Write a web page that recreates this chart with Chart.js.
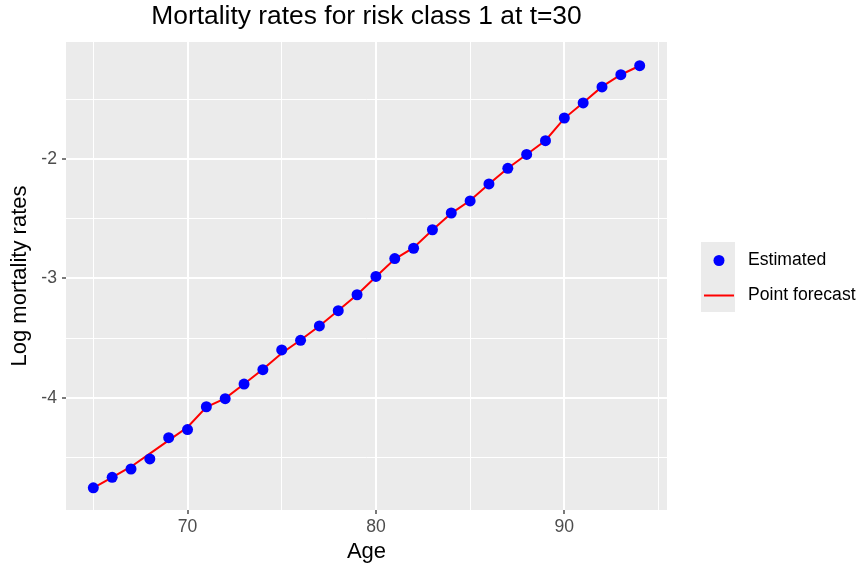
<!DOCTYPE html>
<html>
<head>
<meta charset="utf-8">
<script src="https://cdn.jsdelivr.net/npm/chart.js@4/dist/chart.umd.min.js"></script>
<style>
  html, body { margin: 0; padding: 0; background: #ffffff; }
  #wrap { width: 859px; height: 569px; position: relative; }
</style>
</head>
<body>
<div id="wrap"><canvas id="c" width="859" height="569"></canvas></div>
<script>
// ---- Data ----
const ages = [65,66,67,68,69,70,71,72,73,74,75,76,77,78,79,80,81,82,83,84,85,86,87,88,89,90,91,92,93,94];
const estimated = [-4.751,-4.664,-4.594,-4.510,-4.332,-4.264,-4.073,-4.006,-3.883,-3.763,-3.598,-3.517,-3.397,-3.269,-3.136,-2.983,-2.833,-2.747,-2.592,-2.452,-2.351,-2.209,-2.078,-1.962,-1.847,-1.657,-1.531,-1.397,-1.295,-1.219];
const pointForecast = [-4.751,-4.664,-4.575,-4.465,-4.355,-4.245,-4.075,-4.003,-3.883,-3.760,-3.625,-3.515,-3.397,-3.268,-3.136,-2.985,-2.838,-2.742,-2.595,-2.455,-2.348,-2.210,-2.078,-1.962,-1.845,-1.660,-1.530,-1.395,-1.295,-1.220];
const xGrid = [65,70,75,80,85,90,95];
const xMajor = [70,80,90];
const yGrid = [-4.5,-4,-3.5,-3,-2.5,-2,-1.5];
const yMajor = [-4,-3,-2];
const titleText = 'Mortality rates for risk class 1 at t=30';
const xTitle = 'Age';
const yTitle = 'Log mortality rates';
const seriesNames = ['Estimated', 'Point forecast'];

const FONT = "'Liberation Sans', Arial, Helvetica, sans-serif";
const isMajorX = v => xMajor.includes(v);
const isMajorY = v => yMajor.some(m => Math.abs(m - v) < 1e-9);

const panelBg = {
  id: 'panelBg',
  beforeDraw(chart) {
    const {ctx, chartArea: a} = chart;
    ctx.save();
    ctx.fillStyle = '#EBEBEB';
    ctx.fillRect(a.left, a.top, a.right - a.left, a.bottom - a.top);
    ctx.restore();
  }
};

const ggLegend = {
  id: 'ggLegend',
  afterDraw(chart) {
    const {ctx} = chart;
    const ds = chart.data.datasets;
    const keyX = 701, keyY = 242, keyW = 34, keyH = 35;
    ctx.save();
    ctx.fillStyle = '#EBEBEB';
    ctx.fillRect(keyX, keyY, keyW, keyH * 2);
    const p = ds[0];
    ctx.fillStyle = p.backgroundColor;
    ctx.beginPath();
    ctx.arc(keyX + keyW / 2 + 1, keyY + keyH / 2 + 1, 5.5, 0, Math.PI * 2);
    ctx.fill();
    const l = ds[1];
    ctx.strokeStyle = l.borderColor;
    ctx.lineWidth = 2;
    ctx.beginPath();
    ctx.moveTo(keyX + 3, keyY + keyH + keyH / 2 + 1);
    ctx.lineTo(keyX + keyW - 1, keyY + keyH + keyH / 2 + 1);
    ctx.stroke();
    ctx.fillStyle = '#000000';
    ctx.font = '17.6px ' + FONT;
    ctx.textBaseline = 'middle';
    ctx.textAlign = 'left';
    ctx.fillText(p.label, 748, keyY + keyH / 2 + 1);
    ctx.fillText(l.label, 748, keyY + keyH + keyH / 2 + 1);
    ctx.restore();
  }
};

new Chart(document.getElementById('c'), {
  type: 'scatter',
  data: {
    datasets: [
      {
        type: 'scatter',
        label: seriesNames[0],
        data: ages.map((a, i) => ({x: a, y: estimated[i]})),
        backgroundColor: '#0000FF',
        borderColor: '#0000FF',
        borderWidth: 0,
        pointRadius: 5.5,
        pointHoverRadius: 5.5,
        order: 0
      },
      {
        type: 'line',
        label: seriesNames[1],
        data: ages.map((a, i) => ({x: a, y: pointForecast[i]})),
        borderColor: '#FF0000',
        backgroundColor: '#FF0000',
        borderWidth: 2,
        pointRadius: 0,
        pointHoverRadius: 0,
        tension: 0,
        fill: false,
        showLine: true,
        order: 1
      }
    ]
  },
  options: {
    responsive: false,
    animation: false,
    devicePixelRatio: 1,
    layout: { padding: { left: 0, right: 192, top: 0, bottom: 0 } },
    plugins: {
      legend: { display: false },
      tooltip: { enabled: false },
      title: {
        display: true,
        text: titleText,
        fullSize: false,
        color: '#000000',
        font: { family: FONT, size: 26.4, weight: 'normal', lineHeight: 1.2 },
        padding: { top: 1, bottom: 9.3 }
      }
    },
    scales: {
      x: {
        type: 'linear',
        min: 63.55,
        max: 95.45,
        afterBuildTicks: s => { s.ticks = xGrid.map(v => ({value: v})); },
        afterFit: s => { s.height = 59; },
        border: { display: false },
        grid: {
          color: '#FFFFFF',
          lineWidth: c => isMajorX(c.tick && c.tick.value) ? 2 : 1,
          drawTicks: true,
          tickLength: 4,
          tickWidth: 1.3,
          tickColor: c => isMajorX(c.tick && c.tick.value) ? '#333333' : 'rgba(0,0,0,0)'
        },
        ticks: {
          autoSkip: false,
          maxRotation: 0,
          padding: 3,
          color: '#4D4D4D',
          font: { family: FONT, size: 17.6 },
          callback: v => isMajorX(v) ? String(v) : ''
        },
        title: {
          display: true,
          text: xTitle,
          color: '#000000',
          font: { family: FONT, size: 22, lineHeight: 1.2 },
          padding: { top: 0, bottom: 4 }
        }
      },
      y: {
        type: 'linear',
        min: -4.937,
        max: -1.021,
        afterBuildTicks: s => { s.ticks = yGrid.map(v => ({value: v})); },
        afterFit: s => { s.width = 66; },
        border: { display: false },
        grid: {
          color: '#FFFFFF',
          lineWidth: c => isMajorY(c.tick && c.tick.value) ? 2 : 1,
          drawTicks: true,
          tickLength: 4,
          tickWidth: 1.3,
          tickColor: c => isMajorY(c.tick && c.tick.value) ? '#333333' : 'rgba(0,0,0,0)'
        },
        ticks: {
          autoSkip: false,
          padding: 5,
          color: '#4D4D4D',
          font: { family: FONT, size: 17.6 },
          callback: v => isMajorY(v) ? String(v) : ''
        },
        title: {
          display: true,
          text: yTitle,
          color: '#000000',
          font: { family: FONT, size: 22, lineHeight: 1.2 },
          padding: { top: 7, bottom: 0 }
        }
      }
    }
  },
  plugins: [panelBg, ggLegend]
});
</script>
</body>
</html>
